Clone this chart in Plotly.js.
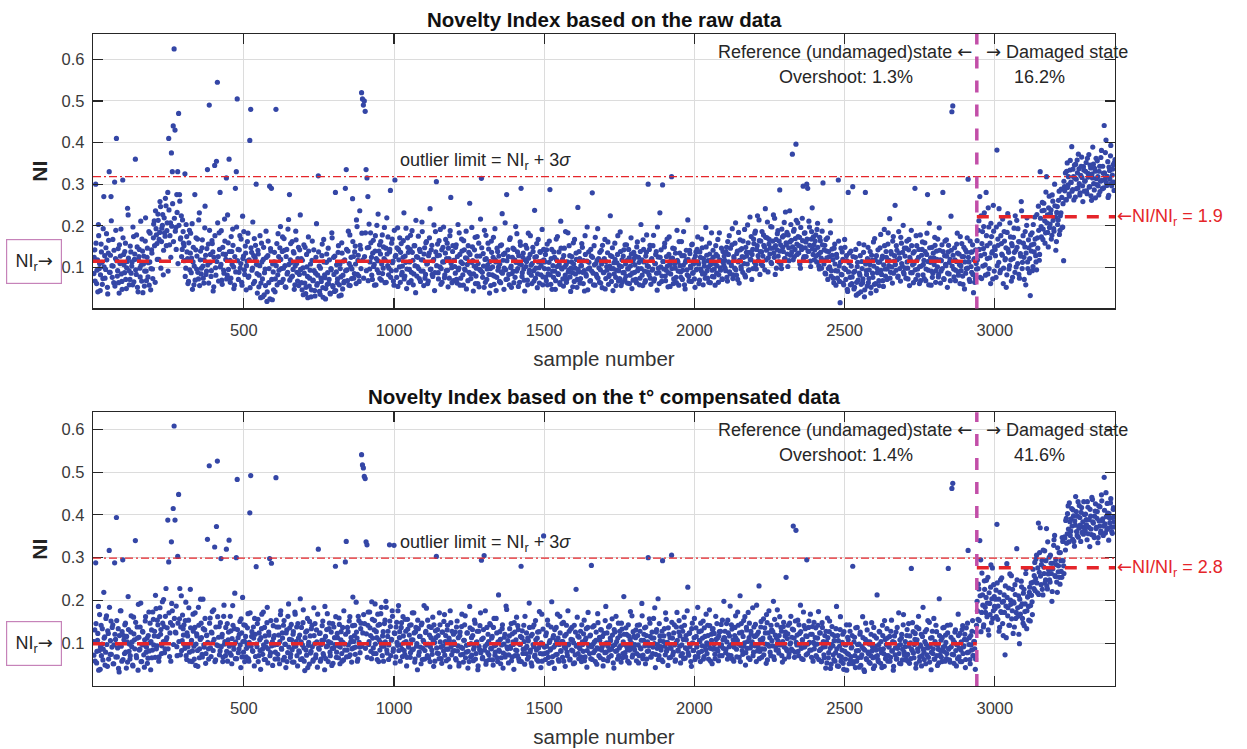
<!DOCTYPE html>
<html>
<head>
<meta charset="utf-8">
<title>Novelty Index</title>
<script src="https://cdn.plot.ly/plotly-3.0.1.min.js"></script>
<style>
  html, body { margin: 0; padding: 0; background: #ffffff; }
  #chart { width: 1247px; height: 749px; }
</style>
</head>
<body>
<div id="chart"></div>
<script>
// Novelty Index (NI) per sample, stored as NI x 1000.
// Set A holds samples 1, 4, 7, ... and set B holds samples 2, 5, 8, ...
const SAMPLE_STEP = 3;

// ---- raw data, set A (blocks of 300 samples) ----
const rawA0001 = [85,142,300,61,118,203,97,44,156,112,73,270,128,95,181,52,134,330,88,270,104,167,63,305,121,410,79,145,38,109,192,66,310,131,87,158,49,114,226,92,71,137,103,58,174,119,360,83,149,41,126,98,211,67,139,108,55,163,91,124,77,186,113,46,142,96,171,212,64,193,157,228,119,184,246,162,201,82,219,175,248,188,280,410,154,207,375,330,440,625,430,196,275,330,470,275,168,224,143,186];
const rawA0301 = [152,325,98,174,121,66,189,134,87,205,113,58,275,142,96,168,72,231,118,84,147,103,62,195,129,91,335,156,490,112,78,164,137,53,345,99,355,545,126,183,280,107,69,148,93,216,131,315,81,159,360,117,74,138,192,101,57,290,330,505,143,88,176,109,64,223,127,94,151,46,115,182,79,405,480,136,98,61,169,122,300,85,141,53,104,27,158,72,119,34,96,187,18,128,63,295,145,290,22,89];
const rawA0601 = [113,41,480,157,82,126,64,198,97,138,71,169,104,52,143,88,215,275,118,76,162,95,134,58,187,109,67,148,83,226,121,46,99,154,62,37,131,78,173,55,93,29,117,68,142,44,86,205,61,320,103,35,74,128,51,167,82,24,112,59,146,71,38,97,183,56,124,42,280,89,63,136,31,108,77,159,48,115,66,290,335,94,139,57,178,102,73,265,126,85,151,61,198,117,79,236,144,520,505,490];
const rawA0901 = [500,475,335,315,270,148,96,183,124,71,165,107,139,58,201,116,87,154,132,69,178,98,121,63,146,219,104,82,137,285,92,168,115,57,310,129,76,195,143,101,64,157,88,124,231,79,112,49,171,136,95,143,68,188,117,84,152,39,126,102,175,73,138,91,209,118,56,147,83,162,109,67,134,241,96,153,78,119,44,186,306,128,87,164,101,59,142,113,197,75,134,92,158,53,121,176,268,99,138,68];
const rawA1201 = [117,86,154,62,203,98,131,74,168,109,57,142,93,187,121,68,136,254,84,112,149,43,103,172,79,127,61,158,95,216,314,88,133,52,119,177,71,106,144,38,97,163,82,124,59,193,113,76,138,101,66,152,89,229,117,47,134,94,275,72,126,58,171,103,85,146,63,118,198,91,137,54,109,161,290,78,124,96,43,153,114,69,182,87,131,105,61,148,92,237,74,126,51,167,99,138,82,115,58,143];
const rawA1501 = [97,131,68,156,84,112,287,59,143,91,76,124,47,168,102,85,137,63,211,98,119,55,146,81,107,72,183,94,128,42,113,87,159,66,98,134,52,244,89,121,73,104,148,61,92,176,83,115,46,137,99,68,127,279,86,152,57,109,78,193,121,64,94,141,51,116,88,167,73,102,135,59,82,224,97,126,44,111,158,76,93,131,67,104,185,56,118,87,142,71,108,154,62,96,123,81,171,49,114,136];
const rawA1801 = [88,127,63,161,97,112,74,203,118,56,143,91,68,136,104,300,82,153,59,121,96,177,72,109,138,45,125,87,231,101,66,298,114,149,79,93,168,53,131,107,84,318,122,61,145,98,76,189,113,57,134,89,162,71,105,128,48,117,94,214,78,141,103,66,156,87,119,52,137,96,173,108,69,124,91,147,58,112,85,196,129,74,101,158,63,118,93,141,77,109,152,86,127,64,183,99,116,72,138,105];
const rawA2101 = [117,92,148,67,131,176,84,109,154,73,126,98,207,81,139,113,62,166,102,145,88,124,191,77,136,108,159,94,221,119,71,143,168,112,187,96,152,128,214,83,163,137,104,178,149,241,118,171,89,156,132,198,109,146,226,124,83,167,142,188,113,286,154,97,173,138,208,121,159,184,102,147,236,129,165,372,118,191,143,396,156,207,134,172,98,149,218,295,126,183,161,300,290,138,197,115,168,243,131,154];
const rawA2401 = [142,178,113,206,131,96,164,122,187,303,108,153,84,139,171,97,126,212,79,144,118,63,156,92,131,74,310,103,15,146,82,119,58,167,95,128,47,280,111,76,139,61,294,88,52,124,33,102,69,157,81,41,114,63,136,29,280,92,55,148,73,107,38,129,86,161,59,118,44,97,142,68,113,179,83,127,54,191,96,138,71,156,104,217,88,132,62,174,115,249,93,141,76,186,122,67,158,103,201,84];
const rawA2701 = [127,74,163,98,142,56,118,189,87,134,109,290,71,152,96,124,61,178,103,143,82,117,159,68,131,275,93,206,112,57,148,86,123,172,64,139,101,77,195,118,91,154,280,73,128,107,166,52,137,84,119,223,474,488,96,147,68,114,182,89,132,61,104,157,79,126,48,142,97,171,312,113,66,136,88,154,39,121,74,109,164,97,212,270,128,73,186,145,231,106,280,152,84,197,123,61,174,138,249,91];
const rawA3001 = [143,76,382,168,112,204,93,157,129,61,186,118,147,82,229,136,104,173,67,152,121,194,88,141,213,109,162,74,133,258,97,176,124,149,58,201,113,166,87,32,139,183,102,156,221,128,94,171,247,117,330,198,236,167,254,212,183,318,226,149,271,204,238,177,259,193,300,221,162,246,214,283,189,231,268,197,116,294,327,262,351,298,276,334,305,390,287,318,346,269,312,358,291,337,274,321,365,296,342,283];
const rawA3301 = [308,352,277,326,371,294,339,261,315,348,286,331,362,299,318,274,343,307,381,289,326,441,312,406,297,354,273,333,368,301,322,347,285,359];

// ---- raw data, set B ----
const rawB0002 = [124,67,158,93,41,176,109,82,137,59,193,101,74,147,118,36,165,88,129,212,76,103,141,55,189,116,92,63,154,127,84,47,171,106,138,71,99,242,122,58,151,86,113,197,65,132,94,178,52,119,143,77,105,168,39,127,91,219,68,146,111,57,182,97,134,73,204,152,236,178,119,213,167,258,98,194,227,141,183,266,152,207,91,238,176,124,199,253,162,218,187,143,232,109,201,259,171,126,214,158];
const rawB0302 = [116,78,203,137,61,159,94,182,122,47,148,103,69,171,127,88,214,56,139,98,166,74,118,247,83,145,106,62,189,131,92,157,43,124,176,81,114,207,67,143,101,188,59,132,86,163,119,72,226,95,138,64,174,107,153,49,126,89,197,116,71,142,98,168,57,121,186,83,134,104,162,76,118,51,147,93,209,128,66,153,107,38,132,81,176,62,113,29,148,87,56,124,41,163,97,24,139,71,108,46];
const rawB0602 = [136,72,104,58,181,93,147,119,64,173,98,141,53,126,84,192,107,69,157,112,79,138,47,103,166,88,121,56,142,95,63,117,34,86,148,52,101,27,139,74,108,46,163,69,92,31,124,57,81,137,42,98,66,156,28,113,75,49,132,87,61,118,36,94,171,53,83,127,44,106,72,152,58,97,33,134,81,63,118,92,143,68,187,109,56,124,96,162,74,137,108,214,83,129,66,153,97,182,118,74];
const rawB0902 = [126,183,92,147,68,204,113,159,81,134,102,57,176,121,94,228,139,73,162,108,85,149,196,117,64,132,173,98,143,76,158,111,67,189,126,93,147,54,118,171,136,82,103,164,72,127,194,96,148,63,113,177,88,136,58,152,104,213,79,124,97,143,66,118,186,91,132,74,159,108,61,128,171,95,142,83,116,202,87,137,104,156,72,129,191,97,64,148,113,82,167,121,93,146,74,188,109,63,152,117];
const rawB1202 = [102,148,71,126,94,183,57,113,139,82,164,96,123,48,107,152,88,131,73,196,116,84,142,61,98,174,109,53,127,92,147,76,103,189,64,121,96,158,83,114,56,136,101,172,79,118,44,146,93,127,108,63,154,86,131,98,207,71,116,142,83,167,99,52,124,91,143,76,112,181,97,128,64,153,106,87,134,69,118,102,146,58,122,93,176,81,109,138,67,124,98,157,84,113,62,136,104,191,77,118];
const rawB1502 = [113,76,142,58,96,163,82,121,47,104,137,91,68,118,174,83,107,59,146,96,72,128,101,186,64,113,89,152,77,98,126,53,108,167,84,119,71,95,138,62,104,157,88,116,43,131,79,197,96,112,67,143,91,124,58,106,172,83,117,74,99,136,62,108,153,87,121,48,114,93,161,78,103,128,66,147,97,84,119,56,111,176,92,73,138,102,64,127,88,154,79,116,97,143,61,103,132,86,69,121];
const rawB1802 = [106,71,149,92,124,58,138,97,81,166,113,64,127,178,89,102,143,74,118,93,152,67,109,131,86,197,98,61,124,142,79,114,96,158,68,126,103,87,173,54,121,97,146,72,108,134,63,117,91,162,104,76,128,93,186,58,112,141,82,119,67,133,99,154,86,108,72,127,94,143,113,61,137,96,168,84,121,103,74,149,92,116,64,132,107,183,78,124,96,57,131,104,167,82,118,93,146,71,112,127];
const rawB2102 = [98,137,76,162,113,89,146,104,193,82,121,158,94,133,71,184,117,142,96,126,163,109,81,148,127,202,93,136,118,174,131,97,157,182,106,143,224,117,164,138,108,186,127,153,94,172,141,209,123,167,146,112,197,163,134,218,152,98,181,127,163,139,107,192,148,176,121,233,154,132,178,116,161,203,137,149,187,126,169,213,131,174,152,108,196,143,164,121,182,147,126,168,139,211,153,102,186,144,173,118];
const rawB2402 = [163,127,191,148,104,172,136,98,154,117,142,86,167,123,71,138,101,183,92,129,74,146,108,57,124,91,163,66,112,83,137,62,98,148,71,116,42,89,134,58,103,77,126,48,91,143,64,112,37,86,128,59,97,72,154,46,108,83,121,63,94,138,52,117,76,103,169,61,128,87,112,56,147,93,121,68,106,152,79,124,96,183,117,74,138,101,163,86,128,107,152,118,79,134,97,172,109,136,88,146];
const rawB2702 = [98,146,113,72,167,124,87,152,106,63,138,94,176,117,81,143,102,68,129,161,107,73,138,96,182,114,58,147,123,91,76,134,107,153,92,119,168,83,141,62,116,97,138,71,163,104,127,86,153,112,68,141,103,129,77,118,93,156,134,81,107,174,92,126,59,148,113,86,137,98,124,71,163,102,137,83,118,64,142,96,118,189,143,76,224,157,103,198,132,81,176,121,243,97,158,206,134,72,187,149];
const rawB3002 = [128,197,104,153,241,87,176,132,216,98,163,121,52,184,143,96,207,118,157,76,172,136,224,101,148,193,83,161,127,236,112,158,71,186,134,219,97,147,121,178,154,92,203,137,168,113,227,146,189,131,218,173,256,192,237,158,281,207,184,243,196,229,168,274,213,187,248,141,232,203,261,179,224,288,196,253,307,284,263,331,292,318,271,357,304,283,336,262,314,348,289,327,372,301,279,343,316,258,334,307];
const rawB3302 = [331,284,362,317,293,346,272,324,389,301,338,267,313,356,296,331,282,364,309,343,291,327,376,304,319,268,341,312,393,296,336,305,352];

// ---- temperature compensated data, set A ----
const compA0001 = [72,131,288,54,107,186,83,39,142,98,61,219,115,79,164,46,123,317,74,152,91,143,52,288,109,394,68,134,33,97,176,58,295,118,76,147,42,103,209,81,63,126,92,49,161,108,340,71,138,37,114,86,194,57,128,96,44,152,79,112,65,173,101,38,131,84,156,117,67,181,94,143,58,162,121,76,197,104,139,87,228,113,388,290,69,148,337,176,415,608,388,124,92,303,448,157,73,211,106,134];
const compA0301 = [143,88,196,62,117,154,79,226,101,57,168,93,137,48,122,83,184,66,109,147,74,203,96,131,53,118,343,87,515,159,69,124,102,178,325,61,373,526,94,139,82,298,115,57,163,98,71,320,146,108,341,77,129,52,188,96,134,64,300,483,113,87,151,43,124,207,79,105,142,68,97,169,58,405,492,116,83,138,47,121,279,92,156,71,108,39,134,86,173,62,117,91,148,54,126,298,78,287,103,141];
const compA0601 = [96,63,487,138,74,119,52,167,88,124,61,153,97,43,131,78,192,109,67,144,85,121,56,173,93,138,47,112,79,204,103,64,148,89,36,126,72,158,95,51,117,81,142,58,183,99,66,131,44,320,86,124,63,107,152,71,38,116,92,169,57,134,79,101,48,146,88,113,280,67,123,94,159,52,108,76,137,61,98,290,338,84,127,69,162,103,56,141,89,118,74,196,112,63,153,91,134,541,517,510];
const compA0901 = [490,485,337,330,142,97,173,118,64,156,89,131,192,76,113,168,57,144,102,184,71,127,93,154,198,84,116,62,330,139,107,176,81,329,123,68,149,95,188,113,58,137,86,162,101,74,128,47,156,92,119,67,143,84,108,171,56,127,93,38,134,79,116,52,147,88,104,63,125,182,71,98,139,57,113,84,161,46,102,129,303,77,118,64,143,91,53,126,82,167,104,59,131,86,112,45,148,73,97,121];
const compA1201 = [83,126,61,152,94,47,118,73,139,88,56,107,164,79,124,42,97,186,68,113,132,59,91,147,76,103,38,128,85,171,294,64,112,305,93,51,137,78,104,62,143,87,116,49,158,72,96,124,57,213,81,109,66,134,42,98,121,73,179,87,54,117,92,146,68,103,39,126,84,161,71,132,58,97,280,113,76,142,51,88,124,63,106,194,79,117,47,138,92,69,153,84,112,58,127,96,43,168,75,351];
const compA1501 = [91,62,124,78,143,53,106,87,197,69,118,41,96,137,74,112,58,163,83,104,67,149,92,46,121,79,176,98,61,133,84,108,52,142,73,226,95,117,64,89,128,57,103,81,154,68,112,44,137,93,76,119,282,62,98,141,83,107,51,169,87,114,66,131,92,47,123,78,186,101,59,138,84,112,71,157,94,42,126,81,104,63,147,89,118,56,133,76,209,97,68,121,85,143,54,109,92,164,73,116];
const compA1801 = [84,113,59,142,96,71,128,87,193,64,107,136,52,118,81,300,94,147,68,112,76,158,99,43,126,88,204,71,117,92,61,293,104,134,73,156,86,48,121,97,67,306,112,79,143,58,101,172,84,126,93,54,138,76,109,161,65,118,87,231,72,124,98,46,147,83,113,62,136,91,184,78,107,57,129,94,152,69,116,85,101,142,63,178,88,121,52,134,97,74,163,86,112,59,127,93,144,71,108,198];
const compA2101 = [112,78,146,63,124,92,187,71,133,99,58,118,164,86,107,142,67,211,94,126,74,153,101,49,137,88,172,113,62,128,96,183,79,116,144,57,121,92,234,81,138,67,109,157,86,124,53,148,97,176,113,71,131,94,198,62,119,84,143,106,77,162,98,128,56,139,91,117,254,83,122,68,147,101,86,133,374,112,79,364,96,154,71,123,189,88,108,62,141,93,117,295,76,137,102,168,84,121,58,149];
const compA2401 = [97,136,68,112,174,83,124,57,148,91,73,118,42,103,159,66,127,88,51,139,94,62,117,78,186,47,106,71,132,58,84,121,39,97,63,143,76,108,52,128,69,91,280,57,114,43,82,137,66,98,121,48,73,162,87,34,109,64,131,79,56,103,71,148,92,41,117,68,84,213,62,97,126,53,78,142,87,46,109,71,134,58,91,116,67,154,82,37,102,73,126,64,88,171,53,97,112,61,143,79];
const compA2701 = [92,61,118,74,146,53,101,275,83,127,66,109,42,138,87,163,58,96,121,71,184,79,104,52,132,89,67,149,94,38,113,76,158,63,98,127,48,86,204,72,107,57,136,81,93,119,64,142,275,88,56,114,462,474,73,102,131,47,96,168,68,123,84,57,141,92,109,43,136,78,317,97,62,118,84,153,71,104,39,126,198,156,227,340,295,172,213,138,246,184,207,162,254,119,193,231,148,276,176,209];
const compA3001 = [181,224,378,156,203,137,248,172,196,118,213,73,187,286,164,229,142,201,258,176,123,194,237,158,321,183,211,99,168,245,192,147,226,174,263,134,208,186,219,152,241,197,273,228,289,251,306,218,381,266,370,237,294,213,278,316,248,368,227,262,301,243,287,198,274,329,352,256,284,219,267,312,238,293,254,338,281,349,318,392,356,421,337,384,362,415,343,398,327,376,408,352,431,369,394,338,417,372,355,401];
const compA3301 = [363,389,342,418,371,326,397,354,436,381,347,409,368,392,335,421,374,358,447,386,352,488,379,452,366,404,341,393,428,372,357,413,384,396];

// ---- temperature compensated data, set B ----
const compB0002 = [104,58,146,81,123,37,167,92,71,134,86,112,49,158,97,129,63,184,106,74,137,52,96,121,68,153,89,41,118,176,93,127,62,108,143,79,116,56,132,98,71,164,103,47,122,87,149,66,112,191,84,138,57,97,126,73,108,162,91,53,118,82,147,104,66,173,96,128,212,87,154,116,68,183,132,94,147,202,78,163,109,136,87,171,124,58,193,142,97,158,126,187,71,147,104,228,138,83,166,119];
const compB0302 = [97,153,71,124,92,183,58,136,107,82,128,63,171,98,117,46,142,87,203,113,68,134,91,158,76,119,102,63,147,89,126,174,83,109,57,138,96,162,114,73,148,92,121,67,189,104,137,81,58,126,93,163,72,111,142,86,217,103,64,132,78,121,96,157,68,104,143,57,116,88,136,64,102,171,93,127,81,112,158,69,98,146,57,124,83,113,168,74,96,137,62,103,184,87,119,71,153,94,48,112];
const compB0602 = [118,79,154,97,63,138,104,176,86,112,142,67,98,124,57,163,91,136,74,108,56,127,93,168,104,71,146,82,119,62,137,96,178,58,113,84,129,43,102,151,77,134,92,61,118,146,73,103,168,89,123,58,97,141,76,108,186,64,132,94,104,147,71,126,88,53,138,97,162,79,113,66,144,91,127,58,102,176,84,121,68,137,96,152,73,113,87,208,104,142,91,126,58,163,102,78,147,93,124,167];
const compB0902 = [146,88,122,67,173,104,136,81,197,112,76,153,98,127,62,142,108,84,169,93,117,58,146,103,184,77,128,96,152,71,109,163,87,124,54,138,102,176,83,127,96,148,69,117,83,156,104,67,133,91,142,78,108,171,86,124,63,137,99,154,72,116,91,143,62,107,188,83,128,96,154,66,119,92,137,74,106,143,58,113,89,132,76,171,103,64,126,94,151,72,118,86,142,63,107,176,92,128,81,103];
const compB1202 = [97,64,138,82,113,53,126,91,168,74,107,143,66,95,124,81,57,136,99,72,118,86,154,63,102,128,47,93,141,78,109,67,132,84,176,58,98,121,73,146,88,112,61,137,94,79,158,66,103,84,127,52,96,143,77,114,68,187,91,106,73,134,88,59,122,97,148,71,108,83,141,64,98,116,57,129,86,104,163,76,93,112,68,137,84,54,121,97,143,72,108,62,126,89,174,76,101,58,133,94];
const compB1502 = [76,118,93,154,67,102,84,138,56,113,91,132,73,106,168,62,97,124,81,146,104,58,117,88,142,71,96,128,63,109,137,82,101,54,126,93,161,76,114,87,68,143,97,122,59,108,134,83,172,96,117,64,92,138,78,103,57,126,89,148,71,107,132,84,116,62,98,153,79,124,93,67,141,106,86,119,54,132,97,163,83,112,71,128,94,147,66,103,121,78,136,92,58,117,84,174,101,68,127,89];
const compB1802 = [97,131,76,118,54,143,89,107,164,72,121,94,138,63,103,82,157,116,68,126,91,112,183,74,132,97,62,146,106,84,128,57,117,93,171,81,102,136,66,113,88,149,73,124,96,61,138,107,82,153,117,71,96,128,64,142,89,108,176,78,123,92,57,134,101,83,158,69,116,94,68,127,104,147,81,112,63,136,92,168,76,118,97,141,58,107,132,86,123,64,109,146,82,117,71,128,96,154,88,113];
const compB2102 = [128,86,103,154,72,117,96,143,63,108,91,137,112,68,173,98,124,57,146,83,116,93,162,78,131,104,66,147,89,121,103,71,138,94,117,189,82,126,64,108,151,87,112,73,136,98,167,61,124,93,79,142,106,127,68,156,92,113,178,84,118,96,137,71,104,149,63,126,87,111,142,76,98,163,114,83,131,67,152,102,119,81,143,96,127,64,108,173,91,134,73,116,98,152,84,121,67,139,102,87];
const compB2402 = [113,71,98,142,62,124,86,57,137,104,66,92,128,54,113,78,152,41,97,121,73,106,58,134,87,118,46,93,162,68,102,53,127,81,96,37,114,74,143,61,89,118,52,103,71,136,58,97,83,44,126,67,92,113,38,84,147,62,104,76,98,53,121,82,66,137,47,93,112,71,57,128,86,104,43,118,76,153,64,97,112,71,93,58,128,82,104,46,117,89,63,137,94,76,108,52,121,86,167,72];
const compB2702 = [104,71,132,58,93,117,64,86,148,77,97,123,52,108,81,134,68,93,47,116,86,62,127,98,73,153,91,56,112,79,128,87,63,104,142,71,96,54,118,83,67,113,91,137,58,102,76,124,86,61,143,92,74,108,53,126,83,97,64,118,88,57,103,132,76,94,121,62,108,147,79,113,52,96,128,71,104,87,63,142,176,238,153,211,127,264,189,143,226,172,247,194,131,218,167,283,204,158,237,186];
const compB3002 = [203,162,241,187,128,219,174,253,146,198,172,234,113,207,183,142,262,191,157,226,197,138,214,172,248,163,121,203,186,232,158,217,141,192,274,176,209,154,231,188,212,167,243,258,223,297,241,276,214,312,257,284,226,318,263,241,293,234,337,272,248,306,263,221,287,342,258,296,243,323,281,254,312,268,347,293,263,346,387,334,403,367,428,352,391,374,412,338,386,443,361,397,348,422,376,406,359,384,431,368];
const compB3302 = [402,377,431,356,389,413,367,441,384,352,397,426,371,408,347,386,419,362,433,391,374,411,358,396,427,369,403,382,438,361,394,417,372];

// Reference levels and summary figures for each panel
const boundarySample = 2940;            // last sample of the reference (undamaged) state
const rawLevels  = { niRef: 0.1144, niDamaged: 0.2216, outlierLimit: 0.318 };
const compLevels = { niRef: 0.0986, niDamaged: 0.2767, outlierLimit: 0.299 };
const rawShares  = { overshoot: '1.3%', damaged: '16.2%' };
const compShares = { overshoot: '1.4%', damaged: '41.6%' };

const X_RANGE = [-2, 3400];
const X_TICKS = [500, 1000, 1500, 2000, 2500, 3000];
const Y_TICKS = [0.1, 0.2, 0.3, 0.4, 0.5, 0.6];
const RAW_Y_RANGE = [0.001, 0.661];
const COMP_Y_RANGE = [0, 0.64];

const panelTitles = [
  'Novelty Index based on the raw data',
  'Novelty Index based on the t° compensated data'
];

// Joins the blocks of a set and places every reading at its sample number.
function toSeries(setA, setB) {
  const x = [], y = [];
  [].concat(...setA).forEach((v, i) => { x.push(1 + i * SAMPLE_STEP); y.push(v / 1000); });
  [].concat(...setB).forEach((v, i) => { x.push(2 + i * SAMPLE_STEP); y.push(v / 1000); });
  return { x, y };
}

const rawSeries = toSeries(
  [rawA0001, rawA0301, rawA0601, rawA0901, rawA1201, rawA1501, rawA1801, rawA2101, rawA2401, rawA2701, rawA3001, rawA3301],
  [rawB0002, rawB0302, rawB0602, rawB0902, rawB1202, rawB1502, rawB1802, rawB2102, rawB2402, rawB2702, rawB3002, rawB3302]);
const compSeries = toSeries(
  [compA0001, compA0301, compA0601, compA0901, compA1201, compA1501, compA1801, compA2101, compA2401, compA2701, compA3001, compA3301],
  [compB0002, compB0302, compB0602, compB0902, compB1202, compB1502, compB1802, compB2102, compB2402, compB2702, compB3002, compB3302]);

const FONT = '"Liberation Sans", Arial, Helvetica, sans-serif';
const DOT_BLUE = '#3446a6';
const RED = '#e5252a';
const MAGENTA = '#c24ea8';
const INK = '#262626';

// arrows drawn with a font whose arrow glyphs are full width
const arrow = ch => '<span style="font-family:\'DejaVu Sans\'">' + ch + '</span>';
const LEFT = arrow('←');
const RIGHT = arrow('→');

function pointsTrace(series, xa, ya) {
  return {
    type: 'scatter', mode: 'markers', x: series.x, y: series.y,
    xaxis: xa, yaxis: ya, hoverinfo: 'skip',
    marker: { size: 5.2, color: DOT_BLUE, line: { width: 0 } }
  };
}

function levelShapes(lv, xa, ya) {
  return [
    // outlier limit NI_r + 3 sigma
    { type: 'line', xref: xa, yref: ya, x0: X_RANGE[0], x1: X_RANGE[1],
      y0: lv.outlierLimit, y1: lv.outlierLimit,
      line: { color: RED, width: 1.1, dash: '8px,3px,2px,3px' } },
    // mean NI of the reference state
    { type: 'line', xref: xa, yref: ya, x0: X_RANGE[0], x1: boundarySample,
      y0: lv.niRef, y1: lv.niRef,
      line: { color: RED, width: 3.5, dash: '12px,10px' } },
    // mean NI of the damaged state
    { type: 'line', xref: xa, yref: ya, x0: boundarySample, x1: X_RANGE[1],
      y0: lv.niDamaged, y1: lv.niDamaged,
      line: { color: RED, width: 3.5, dash: '12px,10px' } },
    // reference / damaged boundary
    { type: 'line', xref: xa, yref: ya + ' domain', x0: boundarySample, x1: boundarySample,
      y0: 0, y1: 1,
      line: { color: MAGENTA, width: 3.5, dash: '12px,12px' } }
  ];
}

function panelAnnotations(lv, shares, title, xa, ya, topGap) {
  const txt = { family: FONT, size: 18, color: INK };
  return [
    { xref: xa + ' domain', yref: ya + ' domain', x: 0.5, y: 1, yanchor: 'middle',
      yshift: topGap, showarrow: false, text: '<b>' + title + '</b>',
      font: { family: FONT, size: 20.5, color: '#111111' } },
    { xref: xa, yref: ya + ' domain', x: boundarySample, y: 1, xanchor: 'right', yanchor: 'middle',
      xshift: -3, yshift: -17, showarrow: false, text: 'Reference (undamaged)state ' + LEFT, font: txt },
    { xref: xa, yref: ya + ' domain', x: boundarySample, y: 1, xanchor: 'left', yanchor: 'middle',
      xshift: 7, yshift: -17, showarrow: false, text: RIGHT + ' Damaged state', font: txt },
    { xref: xa, yref: ya + ' domain', x: boundarySample, y: 1, xanchor: 'right', yanchor: 'middle',
      xshift: -62, yshift: -43, showarrow: false, text: 'Overshoot: ' + shares.overshoot, font: txt },
    { xref: xa, yref: ya + ' domain', x: boundarySample, y: 1, xanchor: 'left', yanchor: 'middle',
      xshift: 35, yshift: -43, showarrow: false, text: shares.damaged, font: txt },
    { xref: xa, yref: ya, x: 1012, y: lv.outlierLimit, xanchor: 'left', yanchor: 'middle',
      yshift: 15, showarrow: false, text: 'outlier limit = NI<sub>r</sub> + 3<i>σ</i>', font: txt },
    { xref: xa, yref: ya, x: X_RANGE[1], y: lv.niDamaged, xanchor: 'left', yanchor: 'middle',
      xshift: 0, showarrow: false,
      text: LEFT + 'NI/NI<sub>r</sub> = ' + (lv.niDamaged / lv.niRef).toFixed(1),
      font: { family: FONT, size: 18, color: RED } },
    { xref: xa + ' domain', yref: ya, x: 0, y: lv.niRef, xanchor: 'right', yanchor: 'middle',
      xshift: -31, showarrow: false, text: 'NI<sub>r</sub>' + RIGHT, align: 'center',
      width: 50, height: 39, borderpad: 2, borderwidth: 1.2, bordercolor: '#c683b9',
      bgcolor: '#ffffff', font: txt }
  ];
}

function xAxis(anchor) {
  return {
    anchor, range: X_RANGE, tickmode: 'array', tickvals: X_TICKS,
    showline: true, linecolor: INK, linewidth: 1.2, mirror: 'ticks',
    ticks: 'inside', ticklen: 10, tickwidth: 1.1, tickcolor: INK,
    showgrid: true, gridcolor: '#dcdcdc', gridwidth: 1, zeroline: false,
    tickfont: { family: FONT, size: 16.5, color: '#3a3a3a' }, ticklabelstandoff: 7,
    title: { text: 'sample number', font: { family: FONT, size: 20.5, color: '#333333' }, standoff: 13 }
  };
}

function yAxis(anchor, domain, range) {
  return {
    anchor, domain, range, tickmode: 'array', tickvals: Y_TICKS,
    showline: true, linecolor: INK, linewidth: 1.2, mirror: 'ticks',
    ticks: 'inside', ticklen: 10, tickwidth: 1.1, tickcolor: INK,
    showgrid: true, gridcolor: '#dcdcdc', gridwidth: 1, zeroline: false,
    tickfont: { family: FONT, size: 16.5, color: '#3a3a3a' }, ticklabelstandoff: 4,
    title: { text: '<b>NI</b>', font: { family: FONT, size: 21, color: '#222222' }, standoff: 8 }
  };
}

const data = [
  pointsTrace(rawSeries, 'x', 'y'),
  pointsTrace(compSeries, 'x2', 'y2')
];

const layout = {
  width: 1247, height: 749,
  margin: { l: 93, r: 132, t: 34, b: 63 },
  paper_bgcolor: '#ffffff', plot_bgcolor: '#ffffff',
  showlegend: false,
  font: { family: FONT, color: INK },
  xaxis: xAxis('y'),
  yaxis: yAxis('x', [0.579, 1], RAW_Y_RANGE),
  xaxis2: xAxis('y2'),
  yaxis2: yAxis('x2', [0, 0.4198], COMP_Y_RANGE),
  shapes: [].concat(levelShapes(rawLevels, 'x', 'y'), levelShapes(compLevels, 'x2', 'y2')),
  annotations: [].concat(
    panelAnnotations(rawLevels, rawShares, panelTitles[0], 'x', 'y', 15),
    panelAnnotations(compLevels, compShares, panelTitles[1], 'x2', 'y2', 16)
  )
};

Plotly.newPlot('chart', data, layout, { staticPlot: true, displayModeBar: false });
</script>
</body>
</html>
